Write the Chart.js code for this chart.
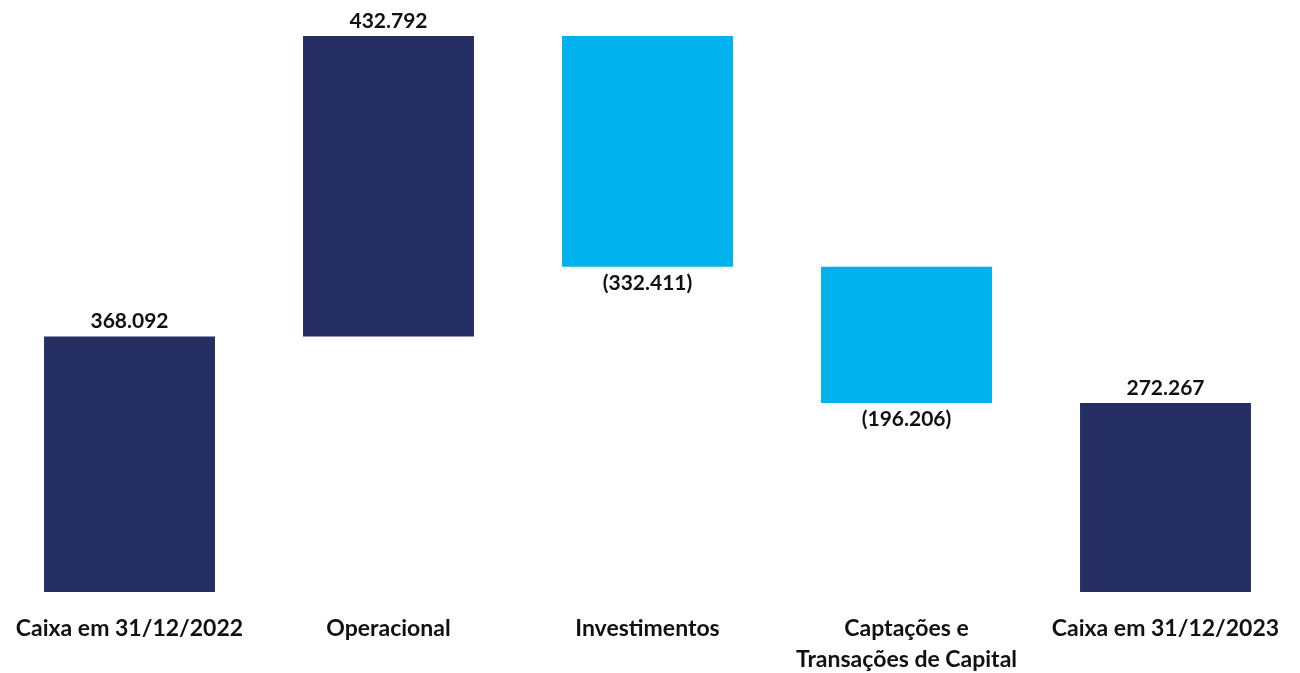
<!DOCTYPE html>
<html><head><meta charset="utf-8">
<script src="https://cdn.jsdelivr.net/npm/chart.js@4/dist/chart.umd.min.js"></script>
<style>html,body{margin:0;padding:0;background:#fff}#wrap{width:1300px;height:673px}</style>
</head><body><div id="wrap"><canvas id="c" width="1300" height="673"></canvas></div>
<script>
const categories = [["Caixa em 31/12/2022"], ["Operacional"], ["Investimentos"], ["Captações e", "Transações de Capital"], ["Caixa em 31/12/2023"]];
const values = [368092, 432792, -332411, -196206, 272267];
const isTotal = [true, false, false, false, true];
const colorDark = "#252F64";
const colorLight = "#00B2EC";

const ranges = [];
let running = 0;
values.forEach((v, i) => {
  if (isTotal[i]) { ranges.push([0, v]); running = v; }
  else { ranges.push([running, running + v]); running += v; }
});
const colors = values.map((v, i) => (isTotal[i] || v >= 0) ? colorDark : colorLight);
const fmt = v => { const s = Math.abs(v).toLocaleString('pt-BR'); return v < 0 ? '(' + s + ')' : s; };
const yMax = Math.max(...ranges.map(r => Math.max(r[0], r[1])));

const labelPlugin = {
  id: 'vals',
  afterDatasetsDraw(chart) {
    const ctx = chart.ctx;
    const meta = chart.getDatasetMeta(0);
    const ys = chart.scales.y;
    ctx.save();
    ctx.font = 'bold 21px Lato';
    ctx.fillStyle = '#111';
    ctx.textAlign = 'center';
    ctx.textBaseline = 'middle';
    meta.data.forEach((bar, i) => {
      const r = ranges[i];
      const v = values[i];
      if (v >= 0) {
        ctx.fillText(fmt(v), bar.x, ys.getPixelForValue(Math.max(r[0], r[1])) - 15);
      } else {
        ctx.fillText(fmt(v), bar.x, ys.getPixelForValue(Math.min(r[0], r[1])) + 16);
      }
    });
    ctx.restore();
  }
};

new Chart(document.getElementById('c'), {
  type: 'bar',
  data: { labels: categories, datasets: [{ data: ranges, backgroundColor: colors, barPercentage: 0.66, categoryPercentage: 1 }] },
  options: {
    responsive: false, animation: false,
    layout: { padding: { top: 36, right: 5, left: 0, bottom: 0 } },
    plugins: { legend: { display: false }, tooltip: { enabled: false } },
    scales: {
      y: { display: false, min: 0, max: yMax },
      x: { grid: { display: false }, border: { display: false },
           afterFit(s) { s.height = 81; },
           ticks: { color: '#111', font: { family: 'Lato', weight: 'bold', size: 23, lineHeight: 1.35 }, padding: 13, maxRotation: 0, autoSkip: false } }
    }
  },
  plugins: [labelPlugin]
});
</script></body></html>
